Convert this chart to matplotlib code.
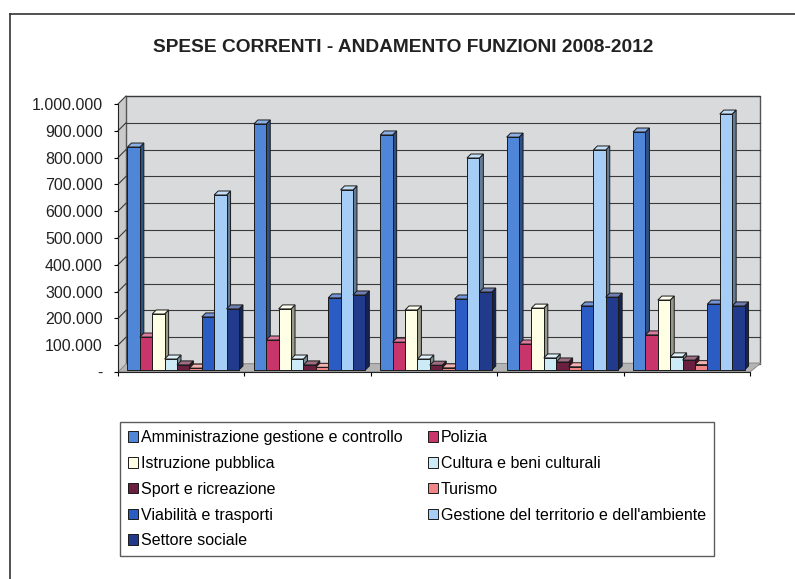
import matplotlib
matplotlib.use("Agg")
import matplotlib.pyplot as plt
from matplotlib.patches import Polygon, Rectangle
from matplotlib.lines import Line2D
import matplotlib.colors as mcolors
import numpy as np

plt.rcParams['font.family'] = ['Liberation Sans', 'DejaVu Sans']

title = "SPESE CORRENTI - ANDAMENTO FUNZIONI 2008-2012"
years = ["2008", "2009", "2010", "2011", "2012"]
series = ["Amministrazione gestione e controllo", "Polizia", "Istruzione pubblica",
          "Cultura e beni culturali", "Sport e ricreazione", "Turismo",
          "Viabilità e trasporti", "Gestione del territorio e dell'ambiente",
          "Settore sociale"]
amministrazione = [832000, 918000, 877000, 869000, 888000]
polizia         = [123000, 112000, 104000,  97000, 131000]
istruzione      = [209000, 228000, 224000, 231000, 261000]
cultura         = [ 41000,  41000,  41000,  45000,  49000]
sport           = [ 19000,  19000,  18000,  30000,  37000]
turismo         = [  7000,  10000,   8000,  12000,  20000]
viabilita       = [198000, 269000, 265000, 239000, 246000]
gestione        = [653000, 672000, 791000, 821000, 955000]
sociale         = [228000, 280000, 291000, 272000, 239000]
values = [amministrazione, polizia, istruzione, cultura, sport, turismo,
          viabilita, gestione, sociale]
colors = ["#4F86D8", "#C8356A", "#FFFFE6", "#CDEBF7", "#6A1E40", "#F08585",
          "#2B5CC4", "#A6CDF5", "#223A8C"]
yticks = [0, 100000, 200000, 300000, 400000, 500000, 600000, 700000, 800000,
          900000, 1000000]
ytick_labels = ["-", "100.000", "200.000", "300.000", "400.000", "500.000",
                "600.000", "700.000", "800.000", "900.000", "1.000.000"]

W, H = 795, 579
fig = plt.figure(figsize=(W / 100, H / 100), dpi=100)
x0, x1, yb, yt = 118, 750, 372, 104
ax = fig.add_axes([x0 / W, 1 - yb / H, (x1 - x0) / W, (yb - yt) / H])
ngroups = len(years)
ymax = 1000000
ax.set_xlim(0, ngroups)
ax.set_ylim(0, ymax)

# pixel -> data conversion
ppx = (x1 - x0) / ngroups
ppy = (yb - yt) / ymax
def dx(px): return px / ppx
def dy(px): return px / ppy

wall_d = 8   # wall depth offset px
bar_d = 4    # bar depth px
bar_off = 2  # bar front offset px

# floor
floor = Polygon([(0, 0), (ngroups, 0), (ngroups + dx(wall_d + 3), dy(wall_d + 1)),
                 (dx(wall_d), dy(wall_d))], closed=True, facecolor="#B4B4B4",
                edgecolor="#808080", lw=0.6, zorder=1, clip_on=False)
ax.add_patch(floor)
# left side wall
side = Polygon([(0, 0), (dx(wall_d), dy(wall_d)), (dx(wall_d), ymax + dy(wall_d)),
                (0, ymax)], closed=True, facecolor="#CACACA", edgecolor="none",
               zorder=0.5, clip_on=False)
ax.add_patch(side)
# back wall
wall = Rectangle((dx(wall_d), dy(wall_d)), ngroups + dx(2), ymax, facecolor="#D8DADB",
                 edgecolor="#555555", lw=1.0, zorder=0.6, clip_on=False)
ax.add_patch(wall)
for v in yticks[1:]:
    ax.plot([dx(wall_d), ngroups + dx(wall_d + 2)], [v + dy(wall_d)] * 2,
            color="#3a3a3a", lw=0.8, zorder=0.7, clip_on=False)
    ax.plot([0, dx(wall_d)], [v, v + dy(wall_d)], color="#3a3a3a", lw=0.8,
            zorder=0.7, clip_on=False)

ax.set_facecolor("none")
for s in ["top", "right"]:
    ax.spines[s].set_visible(False)
ax.spines["left"].set_color("#222222")
ax.spines["bottom"].set_color("#222222")
ax.spines["left"].set_zorder(5)
ax.spines["bottom"].set_zorder(5)
ax.set_yticks(yticks)
ax.set_yticklabels(ytick_labels, fontsize=11.5, color="#222222")
ax.tick_params(axis="y", length=3, width=0.8, pad=8, direction="out")
ax.set_xticks(range(ngroups + 1))
ax.set_xticklabels([])
ax.tick_params(axis="x", length=3, width=0.8, direction="out")

def shade(c, f):
    r, g, b = mcolors.to_rgb(c)
    if f < 1:
        return (r * f, g * f, b * f)
    return (r + (1 - r) * (f - 1), g + (1 - g) * (f - 1), b + (1 - b) * (f - 1))

nb = len(series)
w = 0.098
start = (1 - nb * w) / 2
handles = []
z = 2
for g in range(ngroups):
    for i in range(nb):
        v = values[i][g]
        xl = g + start + i * w + dx(bar_off)
        base = dy(bar_off)
        col = colors[i]
        sidep = Polygon([(xl + w, base), (xl + w + dx(bar_d), base + dy(bar_d)),
                         (xl + w + dx(bar_d), base + v + dy(bar_d)), (xl + w, base + v)],
                        closed=True, facecolor=shade(col, 0.6), edgecolor="#1a1a1a",
                        lw=0.7, zorder=z, clip_on=False)
        ax.add_patch(sidep)
        topp = Polygon([(xl, base + v), (xl + w, base + v),
                        (xl + w + dx(bar_d), base + v + dy(bar_d)),
                        (xl + dx(bar_d), base + v + dy(bar_d))],
                       closed=True, facecolor=shade(col, 1.35), edgecolor="#1a1a1a",
                       lw=0.7, zorder=z, clip_on=False)
        ax.add_patch(topp)
        b = ax.bar(xl, v, width=w, bottom=base, align="edge", color=col,
                   edgecolor="#1a1a1a", lw=0.7, zorder=z + 0.1,
                   label=series[i] if g == 0 else None)
        if g == 0:
            handles.append(b)
        z += 0.2

order = [0, 2, 4, 6, 8, 1, 3, 5, 7]
leg = fig.legend([handles[k] for k in order], [series[k] for k in order],
                 loc="upper left", bbox_to_anchor=(120 / W, 1 - 422 / H),
                 ncol=2, fontsize=11.5, frameon=True, fancybox=False,
                 edgecolor="#333333", handlelength=0.6, handleheight=0.65,
                 handletextpad=0.2, labelspacing=0.68, columnspacing=1.6,
                 borderpad=0.5, borderaxespad=0)
leg.get_frame().set_linewidth(1.0)

fig.text(403 / W, 1 - 47 / H, title, ha="center", va="center", fontsize=13.8,
         fontweight="bold", color="#222222")

# outer frame
fig.add_artist(Line2D([10 / W, 10 / W], [0, 1 - 14 / H], transform=fig.transFigure,
                      color="#333333", lw=1.2))
fig.add_artist(Line2D([10 / W, 1], [1 - 14 / H, 1 - 14 / H], transform=fig.transFigure,
                      color="#333333", lw=1.2))

fig.savefig("out.png", dpi=100)
